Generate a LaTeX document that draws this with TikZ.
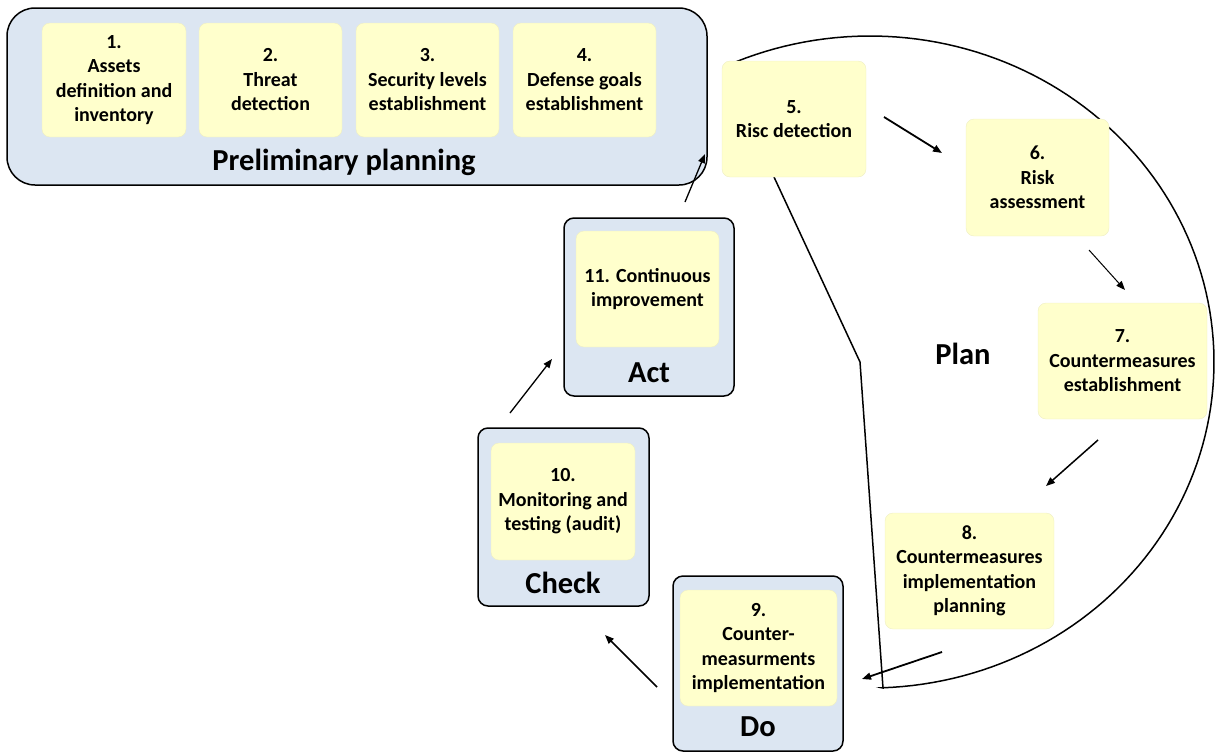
\documentclass[tikz,border=0pt]{standalone}
\usepackage{fontspec}
\setmainfont{Carlito}
\usetikzlibrary{arrows.meta}
\definecolor{yfill}{HTML}{FFFFCC}
\definecolor{yline}{HTML}{EEEEC4}
\definecolor{bfill}{HTML}{DCE6F2}
\begin{document}
\begin{tikzpicture}[x=1pt,y=-1pt,
  ybox/.style={draw=yline, fill=yfill, rounded corners=8pt, align=center,
    font=\fontsize{20}{24.5}\selectfont\bfseries, inner sep=0pt},
  bbox/.style={draw=black, line width=1.5pt, fill=bfill, rounded corners=10pt, inner sep=0pt},
  big/.style={font=\fontsize{30.5}{34}\selectfont\bfseries, inner sep=0pt},
  arr/.style={-{Triangle[length=9pt,width=7pt]}, line width=1.3pt},
  plan/.style={draw=black, line width=1.5pt}]
\useasboundingbox (0,0) rectangle (1215,753);

% Preliminary planning
\node[bbox, rounded corners=28pt, minimum width=700pt, minimum height=177pt] (prelim) at (357,96.5) {};
\node[ybox, minimum width=144pt, minimum height=114pt] (b1) at (114,80) {1.\\Assets\\definition and\\inventory};
\node[ybox, minimum width=143pt, minimum height=114pt] (b2) at (270.5,80) {2.\\Threat\\detection};
\node[ybox, minimum width=143pt, minimum height=114pt] (b3) at (427.5,80) {3.\\Security levels\\establishment};
\node[ybox, minimum width=143pt, minimum height=114pt] (b4) at (584.5,80) {4.\\Defense goals\\establishment};
\node[big] (prelimlabel) at (344,162) {Preliminary planning};

% Plan outline
\coordinate (p0) at (774,177);
\coordinate (p1) at (860,362);
\coordinate (p2) at (883,688);
\draw[plan] (p0) -- (p1) -- (p2)
  -- plot[domain=88:-114.5, samples=120] ({870+344*cos(\x)}, {362+326*sin(\x)});

% Plan steps
\node[ybox, minimum width=144pt, minimum height=116pt] (b5) at (794,119) {5.\\Risc detection};
\node[ybox, minimum width=143pt, minimum height=117pt] (b6) at (1037.5,177.5) {6.\\Risk\\assessment};
\node[ybox, minimum width=169pt, minimum height=116pt] (b7) at (1122.5,361) {7.\\Countermeasures\\establishment};
\node[ybox, minimum width=169pt, minimum height=116pt] (b8) at (969.5,571) {8.\\Countermeasures\\implementation\\planning};
\node[big] (planlabel) at (963,354) {Plan};

% Do
\node[bbox, minimum width=170pt, minimum height=175pt] (do) at (758,663.5) {};
\node[ybox, minimum width=157pt, minimum height=116pt] (b9) at (758.5,648) {9.\\Counter-\\measurments\\implementation};
\node[big] (dolabel) at (758,727) {Do};

% Check
\node[bbox, minimum width=171pt, minimum height=178pt] (check) at (563.5,517) {};
\node[ybox, minimum width=144pt, minimum height=117pt] (b10) at (563,501.5) {10.\\Monitoring and\\testing (audit)};
\node[big] (checklabel) at (563,583) {Check};

% Act
\node[bbox, minimum width=170pt, minimum height=178pt] (act) at (649,307) {};
\node[ybox, minimum width=143pt, minimum height=116pt] (b11) at (647.5,289) {11. Continuous\\improvement};
\node[big] (actlabel) at (649,373) {Act};

% Arrows
\coordinate (a1s) at (510,413); \coordinate (a1e) at (552,359);
\coordinate (a2s) at (685,202); \coordinate (a2e) at (705,154);
\coordinate (a3s) at (884,117); \coordinate (a3e) at (942,153);
\coordinate (a4s) at (1089,250); \coordinate (a4e) at (1125,290);
\coordinate (a5s) at (1098,440); \coordinate (a5e) at (1046,486);
\coordinate (a6s) at (942,652); \coordinate (a6e) at (862,679);
\coordinate (a7s) at (657,687); \coordinate (a7e) at (605,635);
\draw[arr] (a1s) -- (a1e);
\draw[arr] (a2s) -- (a2e);
\draw[arr, line width=1.8pt] (a3s) -- (a3e);
\draw[arr, line width=1pt] (a4s) -- (a4e);
\draw[arr, line width=1.5pt] (a5s) -- (a5e);
\draw[arr, line width=1.8pt] (a6s) -- (a6e);
\draw[arr, line width=1.5pt] (a7s) -- (a7e);
\end{tikzpicture}
\end{document}
